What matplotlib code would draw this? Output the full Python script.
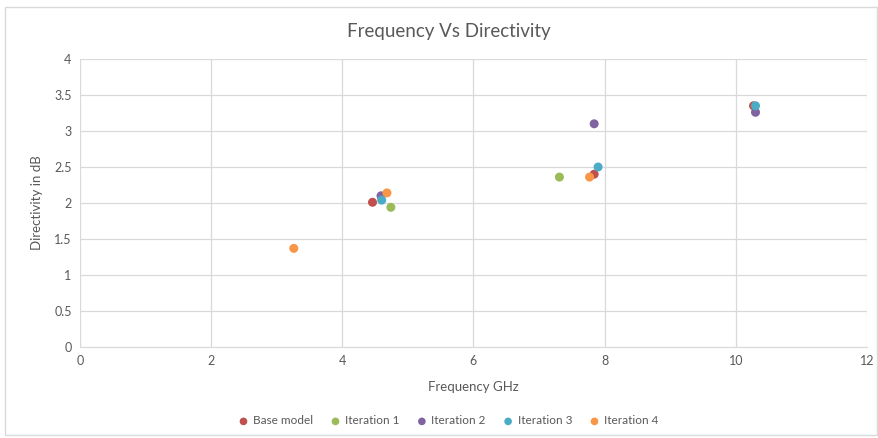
import matplotlib
matplotlib.use('Agg')
import matplotlib.pyplot as plt
from matplotlib.patches import Rectangle

plt.rcParams['font.family'] = ['Lato', 'DejaVu Sans']

series = ['Base model', 'Iteration 1', 'Iteration 2', 'Iteration 3', 'Iteration 4']
colors = ['#C0504D', '#9BBB59', '#8064A2', '#4BACC6', '#F79646']
freq = [
    [4.46, 7.84, 10.27],
    [4.74, 7.31],
    [4.59, 7.84, 10.30],
    [4.60, 7.90, 10.30],
    [3.26, 4.68, 7.77],
]
direct = [
    [2.01, 2.40, 3.35],
    [1.94, 2.36],
    [2.10, 3.10, 3.26],
    [2.04, 2.50, 3.35],
    [1.37, 2.14, 2.36],
]

fig = plt.figure(figsize=(8.79, 4.38), dpi=100)
fig.patches.append(Rectangle((5/879, 3/438), 872/879, 428/438, transform=fig.transFigure,
                             fill=False, edgecolor='#D9D9D9', lw=1))
ax = fig.add_axes([80/879, 1 - 347/438, 787/879, 288/438])

for name, c, xs, ys in zip(series, colors, freq, direct):
    ax.scatter(xs, ys, s=42, color=c, label=name, zorder=3, edgecolors='none')

ax.set_xlim(0, 12)
ax.set_ylim(0, 4)
ax.set_xticks(range(0, 13, 2))
ax.set_yticks([0, 0.5, 1, 1.5, 2, 2.5, 3, 3.5, 4])
ax.set_yticklabels(['0', '0.5', '1', '1.5', '2', '2.5', '3', '3.5', '4'])
ax.grid(True, color='#D9D9D9', lw=0.9)
ax.set_axisbelow(True)
for s in ['top', 'right', 'left']:
    ax.spines[s].set_visible(False)
ax.spines['bottom'].set_color('#D9D9D9')
ax.tick_params(length=0, labelsize=9, colors='#595959', pad=6)

ax.set_xlabel('Frequency GHz', fontsize=9.5, color='#595959', labelpad=10)
ax.set_ylabel('Directivity in dB', fontsize=9.5, color='#595959', labelpad=8)
fig.text(449/879, 1 - 31/438, 'Frequency Vs Directivity', ha='center', va='center',
         fontsize=13.5, color='#595959')

fig.legend(loc='center', bbox_to_anchor=(445/879, 1 - 421/438), ncol=5, frameon=False,
           fontsize=8.5, labelcolor='#595959', handletextpad=-0.2, columnspacing=0.9,
           markerscale=0.85, borderpad=0)

fig.savefig('out.png', dpi=100)
